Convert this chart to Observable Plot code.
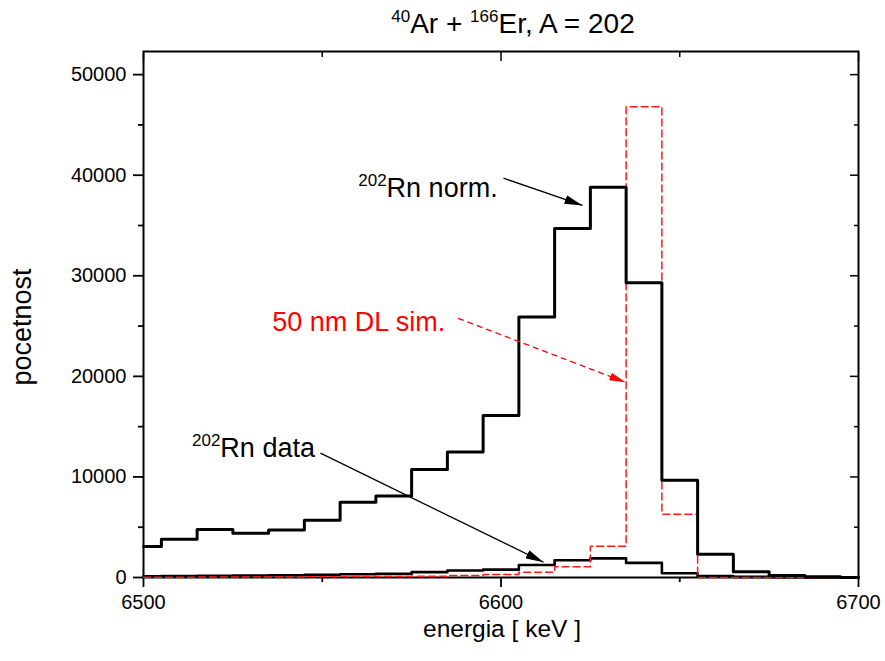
<!DOCTYPE html>
<html><head><meta charset="utf-8">
<script src="https://cdn.jsdelivr.net/npm/d3@7"></script>
<script src="https://cdn.jsdelivr.net/npm/@observablehq/plot@0.6"></script>
<style>
body{margin:0;background:#fff}
#chart svg{font-family:"Liberation Sans",Arial,sans-serif}
</style>
</head><body><div id="chart"></div>
<script>
// bin centres (keV), 10 keV bins
const energy = [6500,6510,6520,6530,6540,6550,6560,6570,6580,6590,6600,6610,6620,6630,6640,6650,6660,6670,6680,6690,6700];
// 202Rn norm.
const normCounts = [3080,3810,4770,4400,4730,5700,7490,8110,10730,12480,16100,25900,34700,38800,29300,9670,2320,560,200,80,0];
// 202Rn data
const dataCounts = [120,150,180,200,230,280,320,360,530,700,780,1240,1720,1900,1450,430,150,60,30,10,0];
// 50 nm DL sim.
const simCounts = [30,30,40,40,50,70,90,110,130,200,300,520,1070,3100,46800,6300,0,0,0,0,0];

const yMajor = [0,10000,20000,30000,40000,50000];
const yMinor = [5000,15000,25000,35000,45000];
const xMajor = [6500,6600,6700];
const xMinor = [6550,6650];

const titleParts = [["40",true],["Ar + ",false],["166",true],["Er, A = 202",false]];
const xLabel = "energia [ keV ]";
const yLabel = "pocetnost";

// annotations (data coordinates)
const labelTexts = ["Rn norm.", "50 nm DL sim.", "Rn data"];
const labelSup = ["202", "", "202"];
const labelX = [6568, 6536, 6521.5];
const labelY = [38700, 25400, 12800];
const labelColor = ["black", "red", "black"];
const arrowX1 = [6600.7, 6588, 6549.5];
const arrowY1 = [39700, 25770, 12360];
const arrowX2 = [6622.8, 6634.8, 6611.9];
const arrowY2 = [37000, 19410, 1520];

const rows = energy.map((e, i) => ({e, norm: normCounts[i], data: dataCounts[i], sim: simCounts[i]}));
const ann = labelTexts.map((t, i) => ({t, sup: labelSup[i], x: labelX[i], y: labelY[i], c: labelColor[i]}));
const arrows = arrowX1.map((x1, i) => ({x1, y1: arrowY1[i], x2: arrowX2[i], y2: arrowY2[i], c: labelColor[i]}));

const blankFmt = () => "";

const plot = Plot.plot({
  width: 885, height: 661,
  marginLeft: 143, marginRight: 27, marginTop: 51, marginBottom: 84,
  x: {domain: [6500, 6700]},
  y: {domain: [0, 52300]},
  style: {fontFamily: "Liberation Sans, Arial, sans-serif", fontSize: "20px", color: "black", background: "white", overflow: "visible"},
  marks: [
    Plot.axisY(yMajor, {anchor: "left", tickSize: 10, tickPadding: 7, strokeWidth: 1.8, label: null, tickFormat: d => String(d), fontSize: 20}),
    Plot.axisY(yMinor, {anchor: "left", tickSize: 5, strokeWidth: 1.8, label: null, tickFormat: blankFmt}),
    Plot.axisY(yMajor, {anchor: "right", tickSize: -9, strokeWidth: 1.5, label: null, tickFormat: blankFmt}),
    Plot.axisY(yMinor, {anchor: "right", tickSize: -5, strokeWidth: 1.5, label: null, tickFormat: blankFmt}),
    Plot.axisX(xMajor, {anchor: "bottom", tickSize: 10, tickPadding: 7, strokeWidth: 1.8, label: null, tickFormat: d => String(d), fontSize: 20}),
    Plot.axisX(xMinor, {anchor: "bottom", tickSize: 5, strokeWidth: 1.8, label: null, tickFormat: blankFmt}),
    Plot.axisX(xMajor, {anchor: "top", tickSize: -9, strokeWidth: 1.5, label: null, tickFormat: blankFmt}),
    Plot.axisX(xMinor, {anchor: "top", tickSize: -5, strokeWidth: 1.5, label: null, tickFormat: blankFmt}),
    Plot.frame({stroke: "black", strokeWidth: 2}),
    Plot.line(rows, {x: "e", y: "data", curve: "step", stroke: "black", strokeWidth: 2.6}),
    Plot.line(rows, {x: "e", y: "sim", curve: "step", stroke: "#ff1a1a", strokeWidth: 1.5, strokeDasharray: "7,4"}),
    Plot.line(rows, {x: "e", y: "norm", curve: "step", stroke: "black", strokeWidth: 3}),
    Plot.link(arrows.filter(a => a.c === "black"), {x1: "x1", y1: "y1", x2: "x2", y2: "y2", stroke: "black", strokeWidth: 1.3}),
    Plot.link(arrows.filter(a => a.c === "red"), {x1: "x1", y1: "y1", x2: "x2", y2: "y2", stroke: "red", strokeWidth: 1.3, strokeDasharray: "6,4"}),
    Plot.text(ann, {x: "x", y: "y", text: "t", fill: "c", textAnchor: "start", fontSize: 27}),
    Plot.text(ann, {x: "x", y: "y", text: "sup", fill: "c", textAnchor: "end", fontSize: 17, dy: -8})
  ]
});

const svg = d3.select(plot);
// filled arrowheads
const defs = svg.insert("defs", ":first-child");
[["ahBlack", "black", 18, 9], ["ahRed", "red", 16, 8]].forEach(([id, col, L, W]) => {
  defs.append("marker").attr("id", id).attr("viewBox", `0 0 ${L} ${W}`)
    .attr("refX", L).attr("refY", W / 2).attr("markerWidth", L).attr("markerHeight", W)
    .attr("markerUnits", "userSpaceOnUse").attr("orient", "auto")
    .append("path").attr("d", `M0,0L${L},${W / 2}L0,${W}Z`).attr("fill", col);
});
svg.selectAll('g[aria-label="link"]').each(function() {
  const g = d3.select(this);
  const red = g.attr("stroke") === "red";
  g.selectAll("path,line").attr("marker-end", red ? "url(#ahRed)" : "url(#ahBlack)");
});

// title with superscripts
const title = svg.append("text").attr("x", 513).attr("y", 33).attr("text-anchor", "middle")
  .attr("font-family", "Liberation Sans Narrow, Liberation Sans, Arial, sans-serif").attr("font-size", 28).attr("fill", "black");
titleParts.forEach(([s, sup]) => {
  const ts = title.append("tspan").text(s);
  if (sup) ts.attr("font-size", 17).attr("dy", -11);
  else ts.attr("dy", 11);
});
// axis labels
svg.append("text").attr("x", 502).attr("y", 637).attr("text-anchor", "middle").attr("font-size", 24.5).attr("fill", "black").text(xLabel);
svg.append("text").attr("transform", "translate(31,327) rotate(-90)").attr("text-anchor", "middle").attr("font-size", 27).attr("fill", "black").text(yLabel);

document.getElementById("chart").append(plot);
</script>
</body></html>
